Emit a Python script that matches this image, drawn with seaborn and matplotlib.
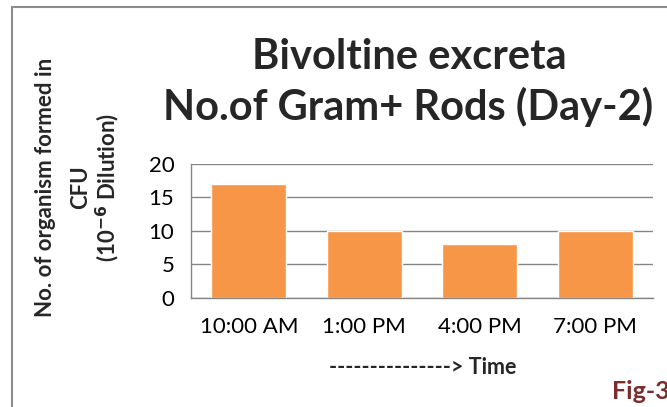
import matplotlib
matplotlib.use("Agg")
import matplotlib.pyplot as plt
import seaborn as sns
import pandas as pd
from matplotlib.lines import Line2D

# Data
times = ["10:00 AM", "1:00 PM", "4:00 PM", "7:00 PM"]
cfu_counts = [17, 10, 8, 10]
y_ticks = [0, 5, 10, 15, 20]

df = pd.DataFrame({"time": times, "cfu": cfu_counts})

sns.set_style("white")
plt.rcParams['font.family'] = ['Lato', 'DejaVu Sans']

fig = plt.figure(figsize=(6.67, 4.07), dpi=100)
ax = fig.add_axes([0.2864, 0.2686, 0.6926, 0.3285])

sns.barplot(data=df, x="time", y="cfu", color="#F79646", width=0.65,
            saturation=1, ax=ax)

ax.set_ylim(0, 20)
ax.set_xlim(-0.5, 3.5)
ax.set_yticks(y_ticks)
ax.yaxis.grid(True, color="#868686", linewidth=1)
ax.set_axisbelow(True)
for side in ["top", "right"]:
    ax.spines[side].set_visible(False)
for side in ["left", "bottom"]:
    ax.spines[side].set_color("#868686")
    ax.spines[side].set_linewidth(1)
ax.tick_params(axis="both", length=0, labelsize=16, colors="#000000")
ax.tick_params(axis="x", pad=14)
ax.tick_params(axis="y", pad=12)
ax.set_xlabel("")
ax.set_ylabel("")

# Title
fig.text(0.613, 0.86, "Bivoltine excreta", ha="center", va="center",
         fontsize=30, fontweight="bold")
fig.text(0.612, 0.737, "No.of Gram+ Rods (Day-2)", ha="center", va="center",
         fontsize=30, fontweight="bold")

# Y axis title (three lines)
fig.text(0.068, 0.54, "No. of organism formed in", rotation=90, ha="center",
         va="center", fontsize=16, fontweight="bold")
fig.text(0.121, 0.54, "CFU", rotation=90, ha="center", va="center",
         fontsize=16, fontweight="bold")
fig.text(0.161, 0.54, r"(10$^{\mathbf{-6}}$ Dilution)", rotation=90, ha="center",
         va="center", fontsize=16, fontweight="bold")

# X axis title
fig.text(0.633, 0.096, "---------------> Time", ha="center", va="center",
         fontsize=15.5, fontweight="bold")

# Figure tag
fig.text(0.917, 0.038, "Fig-3", ha="left", va="center",
         fontsize=18, fontweight="bold", color="#7B2C2C")

# Outer frame (clipped at right / bottom edge)
fig.add_artist(Line2D([12 / 667, 12 / 667], [0, 1 - 7 / 407],
                      transform=fig.transFigure, color="#8C8C8C", linewidth=1.5))
fig.add_artist(Line2D([12 / 667, 1], [1 - 7 / 407, 1 - 7 / 407],
                      transform=fig.transFigure, color="#8C8C8C", linewidth=1.5))

fig.savefig("out.png", dpi=100)
